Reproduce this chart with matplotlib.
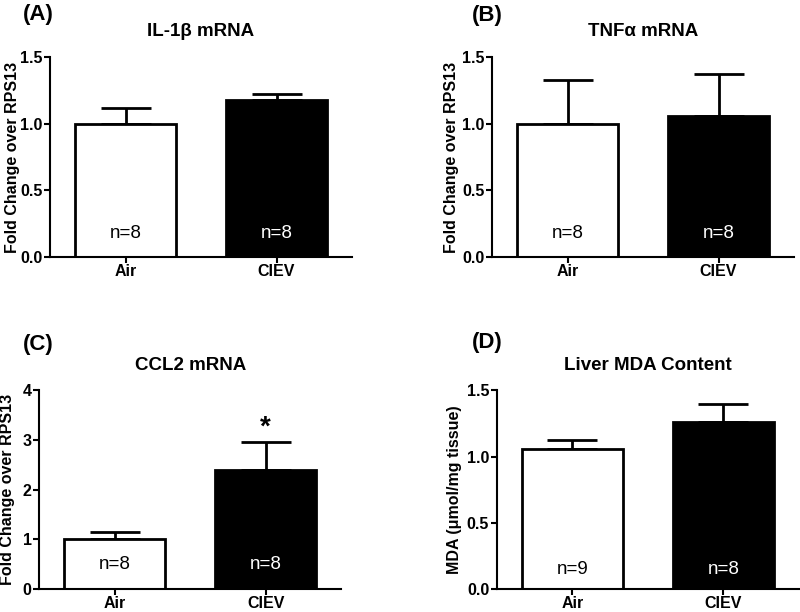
"""
four-panel bar chart: cytokine mRNA and liver MDA, Air vs CIEV.
"""

import numpy as np
import matplotlib.pyplot as plt

plt.rcParams['font.family'] = ['Liberation Sans', 'DejaVu Sans']

groups = ["Air", "CIEV"]

il1b_mean = [1.00, 1.18]
il1b_sem = [0.12, 0.045]
il1b_n = ["n=8", "n=8"]

tnfa_mean = [1.00, 1.06]
tnfa_sem = [0.325, 0.31]
tnfa_n = ["n=8", "n=8"]

ccl2_mean = [1.00, 2.40]
ccl2_sem = [0.15, 0.56]
ccl2_n = ["n=8", "n=8"]

mda_mean = [1.06, 1.26]
mda_sem = [0.065, 0.14]
mda_n = ["n=9", "n=8"]

x = np.array([0.0, 1.5])

fig = plt.figure(figsize=(8, 6.12), dpi=100)

# (left, bottom, width, height) in figure fraction
panels = [
    ("(A)", "IL-1\u03b2 mRNA", il1b_mean, il1b_sem, il1b_n, 1.5, 0.5, "{:.1f}",
     "Fold Change over RPS13", [0.0625, 0.580, 0.3775, 0.327], (0.028, 0.977), 0.12, -0.098),
    ("(B)", "TNF\u03b1 mRNA", tnfa_mean, tnfa_sem, tnfa_n, 1.5, 0.5, "{:.1f}",
     "Fold Change over RPS13", [0.615, 0.580, 0.3775, 0.327], (0.59, 0.974), 0.12, -0.108),
    ("(C)", "CCL2 mRNA", ccl2_mean, ccl2_sem, ccl2_n, 4, 1, "{:.0f}",
     "Fold Change over RPS13", [0.049, 0.038, 0.3775, 0.324], (0.028, 0.437), 0.124, -0.08),
    ("(D)", "Liver MDA Content", mda_mean, mda_sem, mda_n, 1.5, 0.5, "{:.1f}",
     "MDA (\u03bcmol/mg tissue)", [0.621, 0.038, 0.3775, 0.324], (0.59, 0.44), 0.095, -0.116),
]

for label, title, mean, sem, nlab, ymax, step, fmt, ylabel, rect, lpos, ny, lx in panels:
    ax = fig.add_axes(rect)
    ax.bar(x, mean, width=1.0, color=["white", "black"], edgecolor="black",
           linewidth=2, zorder=2)
    ax.errorbar(x, mean, yerr=[[0, 0], sem], fmt="none", ecolor="black",
                elinewidth=2, capsize=18, capthick=2, zorder=1)

    ax.set_xlim(-0.75, 2.25)
    ax.set_ylim(0, ymax)
    ticks = np.arange(0, ymax + step / 2, step)
    ax.set_yticks(ticks)
    ax.set_yticklabels([fmt.format(t) for t in ticks], fontweight="bold", fontsize=11.5)
    ax.set_xticks(x)
    ax.set_xticklabels(groups, fontweight="bold", fontsize=11.5)

    for s in ["top", "right"]:
        ax.spines[s].set_visible(False)
    for s in ["left", "bottom"]:
        ax.spines[s].set_linewidth(1.5)
    ax.tick_params(width=1.5, length=4, direction="out")
    ax.tick_params(axis="x", pad=1)
    ax.tick_params(axis="y", pad=1.5)

    ax.set_ylabel(ylabel, fontweight="bold", fontsize=11.5)
    ax.yaxis.set_label_coords(lx, 0.5)
    ax.set_title(title, fontweight="bold", fontsize=13.5, pad=15)

    for xi, txt, c in zip(x, nlab, ["black", "white"]):
        ax.text(xi, ny, txt, color=c, fontsize=13.5, ha="center", va="center",
                transform=ax.get_xaxis_transform(), zorder=3)

    fig.text(lpos[0], lpos[1], label, fontsize=16, fontweight="bold",
             ha="left", va="center")

    if label == "(C)":
        ax.text(x[1], mean[1] + sem[1] + 0.03, "*", fontsize=20,
                fontweight="bold", ha="center", va="bottom")

fig.savefig("out.png", dpi=100)
